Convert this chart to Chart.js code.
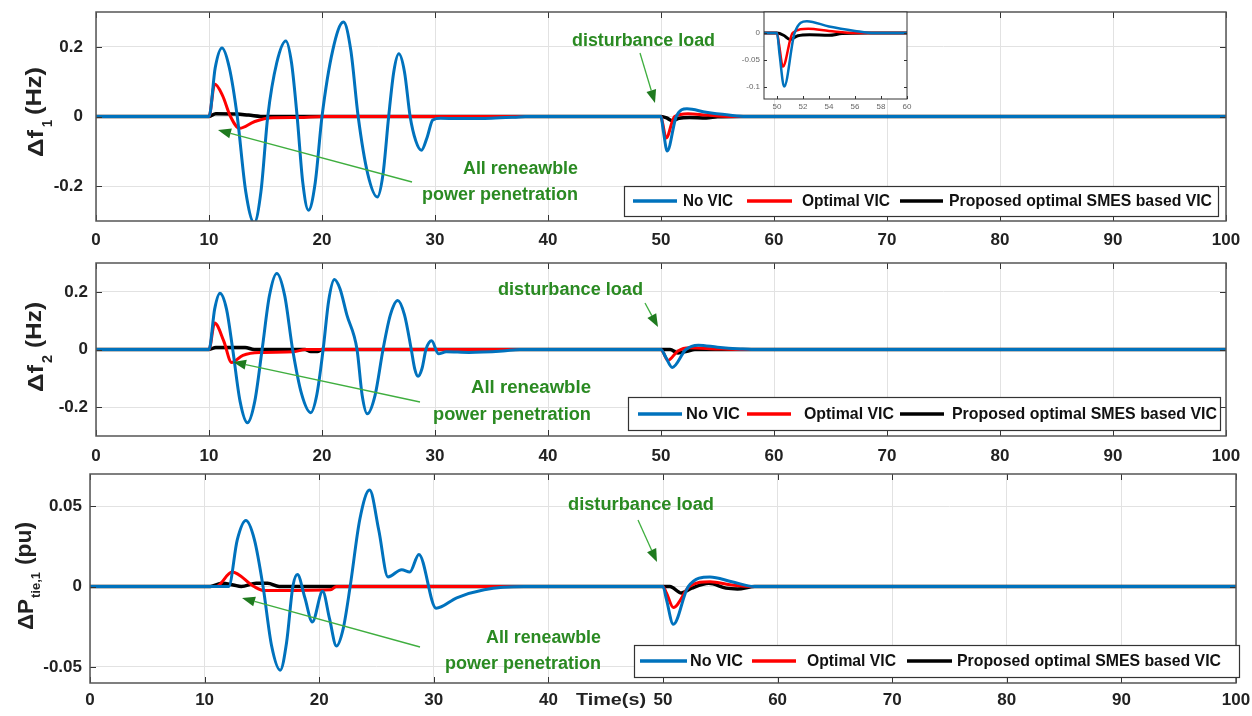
<!DOCTYPE html>
<html><head><meta charset="utf-8">
<script src="https://cdn.jsdelivr.net/npm/chart.js@4/dist/chart.umd.min.js"></script>
<style>
html,body{margin:0;padding:0;background:#fff;}
#wrap{position:relative;width:1252px;height:716px;overflow:hidden;background:#fff;}
canvas{position:absolute;}
</style></head><body>
<div id="wrap">
<canvas id="c1" style="left:0;top:0" width="1252" height="250"></canvas>
<canvas id="c2" style="left:0;top:250px" width="1252" height="215"></canvas>
<canvas id="c3" style="left:0;top:465px" width="1252" height="251"></canvas>
<canvas id="cin" style="left:730px;top:0" width="190" height="115"></canvas>
</div>
<script>
// ---------- DATA ----------
const SERIES_NAMES = ['No VIC', 'Optimal VIC', 'Proposed optimal SMES based VIC'];
const X_TICKS = [0,10,20,30,40,50,60,70,80,90,100];
const X_TICK_LABELS = ['0','10','20','30','40','50','60','70','80','90','100'];
const F_TICKS = [-0.2, 0, 0.2];
const F_TICK_LABELS = ['-0.2','0','0.2'];
const P_TICKS = [-0.05, 0, 0.05];
const P_TICK_LABELS = ['-0.05','0','0.05'];
const INSET_X_TICKS = [50,52,54,56,58,60];
const INSET_X_LABELS = ['50','52','54','56','58','60'];
const INSET_Y_TICKS = [-0.1,-0.05,0];
const INSET_Y_LABELS = ['-0.1','-0.05','0'];

// Panel 1: delta f1 (Hz)
const T_F1_NOVIC = [0,10,10.55,11.15,11.8,12.5,13.25,14.0,14.6,15.2,16.0,16.8,17.3,17.8,18.3,18.8,19.4,20.0,20.95,21.9,22.55,23.2,24.05,24.9,25.4,25.9,26.35,26.8,27.3,27.8,28.3,28.8,29.3,29.8,30.5,32,35,37,38,50,50.2,50.55,51.35,52.3,54,56,57.5,100];
const F1_NOVIC   = [0,0,0.14,0.197,0.14,0,-0.215,-0.305,-0.215,0,0.155,0.217,0.155,0,-0.19,-0.269,-0.19,0,0.19,0.271,0.19,0,-0.165,-0.231,-0.165,0,0.128,0.18,0.128,0,-0.07,-0.097,-0.06,-0.01,-0.005,-0.006,-0.005,-0.002,0,0,-0.04,-0.099,0,0.022,0.012,0.004,0,0];
const T_F1_OPT = [0,10,10.5,11.2,11.9,12.7,14,15.3,18,20,50,50.15,50.45,51.2,52.4,54,56,100];
const F1_OPT   = [0,0,0.093,0.06,0,-0.034,-0.015,-0.004,-0.003,0,0,-0.02,-0.062,0,0.008,0.004,0,0];
const T_F1_SMES = [0,10,10.6,12.5,13.5,15,50,50.5,51,51.6,52.5,54,55,57,100];
const F1_SMES   = [0,0,0.008,0.007,0.004,0,0,-0.004,-0.012,-0.005,-0.003,-0.004,-0.001,0,0];

// Panel 2: delta f2 (Hz)
const T_F2_NOVIC = [0,10,10.5,10.97,11.55,12.1,12.75,13.4,14.05,14.7,15.35,16.0,16.7,17.4,18.2,19.0,19.55,20.1,20.6,21.1,21.6,22.2,23.1,23.55,24.0,24.7,25.4,26.05,26.7,27.3,27.9,28.2,28.5,28.85,29.2,29.7,30.3,31,33,36,37.5,50,50.4,51.0,52.2,53.3,55,57,58,100];
const F2_NOVIC   = [0,0,0.14,0.195,0.14,0,-0.18,-0.254,-0.18,0,0.187,0.264,0.187,0,-0.155,-0.219,-0.155,0,0.172,0.243,0.21,0.12,0,-0.158,-0.223,-0.158,0,0.12,0.17,0.12,0,-0.066,-0.093,-0.066,0,0.03,-0.015,-0.008,-0.01,-0.005,0,0,-0.025,-0.062,0,0.015,0.008,0.002,0,0];
const T_F2_OPT = [0,10,10.5,11.3,12.0,13,14.5,17.5,18.5,50,50.2,50.6,51.5,52.5,55,57,100];
const F2_OPT   = [0,0,0.092,0.03,-0.045,-0.02,-0.01,-0.008,0,0,-0.01,-0.038,-0.005,0.006,0.002,0,0];
const T_F2_SMES = [0,10,10.6,13.2,14,18.5,19,19.6,20,50,50.8,51.5,52.3,53,100];
const F2_SMES   = [0,0,0.007,0.007,0,0,-0.007,-0.007,0,0,0,-0.012,-0.006,0,0];

// Panel 3: delta P tie,1 (pu)
const T_PT_NOVIC = [0,10,12.1,12.85,13.6,14.35,15.1,15.85,16.6,17.15,17.7,18.1,18.75,19.4,20.3,20.9,21.5,22.1,22.7,23.55,24.4,25.2,26.0,27.2,27.9,28.7,30.2,32,34.4,37.9,50,50.3,50.9,52.2,54.1,56,58,100];
const PT_NOVIC   = [0,0,0,0.029,0.041,0.029,0,-0.037,-0.052,-0.035,0,0.0075,-0.007,-0.022,-0.003,-0.02,-0.037,-0.026,0,0.042,0.06,0.035,0.006,0.0105,0.009,0.02,-0.0135,-0.007,-0.002,0,0,-0.008,-0.0235,0,0.006,0.003,0,0];
const T_PT_OPT = [0,11,12.4,14.3,15.2,21,21.5,50,50.3,50.9,52.3,54.1,56,58,100];
const PT_OPT   = [0,0,0.009,0,-0.0025,-0.002,0,0,-0.004,-0.013,0,0.003,0.001,0,0];
const T_PT_SMES = [0,10.5,11.5,12.5,13.2,14.5,15.5,16.5,50,50.6,51.6,52.5,54,55.5,56.5,58,100];
const PT_SMES   = [0,0,0.002,0.001,0,0.002,0.002,0,0,0,-0.004,-0.001,0.002,-0.001,-0.0015,0,0];

// ---------- STYLE ----------
const BLUE = '#0072BD', RED = '#FF0000', BLACK = '#000000';
const GREEN_TXT = '#2a8a22', GREEN_LINE = '#3fae3f', GREEN_HEAD = '#1f7a1f';
const FONT = '"Liberation Sans", Arial, sans-serif';

function pts(t, v){ return t.map((x,i)=>({x:x, y:v[i]})); }

function fitText(ctx, text, x, yc, w, font, color){
  ctx.save(); ctx.font = font; ctx.fillStyle = color; ctx.textBaseline = 'middle'; ctx.textAlign = 'left';
  const m = ctx.measureText(text).width;
  ctx.translate(x, yc); ctx.scale(w/m, 1); ctx.fillText(text, 0, 0); ctx.restore();
}
function rotText(ctx, text, bx, y0, y1, font){
  ctx.save(); ctx.font = font; ctx.fillStyle = '#222'; ctx.textBaseline = 'alphabetic'; ctx.textAlign = 'left';
  const m = ctx.measureText(text).width;
  ctx.translate(bx, y0); ctx.rotate(-Math.PI/2); ctx.scale((y0-y1)/m, 1); ctx.fillText(text, 0, 0); ctx.restore();
}
function arrow(ctx, x0, y0, x1, y1){
  const ang = Math.atan2(y1-y0, x1-x0), L = 13, W = 5;
  const bx = x1 - L*Math.cos(ang), by = y1 - L*Math.sin(ang);
  ctx.save();
  ctx.strokeStyle = GREEN_LINE; ctx.lineWidth = 1.3;
  ctx.beginPath(); ctx.moveTo(x0, y0); ctx.lineTo(bx, by); ctx.stroke();
  ctx.fillStyle = GREEN_HEAD;
  ctx.beginPath(); ctx.moveTo(x1, y1);
  ctx.lineTo(bx + W*Math.sin(ang), by - W*Math.cos(ang));
  ctx.lineTo(bx - W*Math.sin(ang), by + W*Math.cos(ang));
  ctx.closePath(); ctx.fill(); ctx.restore();
}

function makeDecor(c){
  return {
    id: 'decor',
    beforeDraw(chart){
      if (!c.whiteArea) return;
      const a = chart.chartArea, ctx = chart.ctx;
      ctx.save(); ctx.fillStyle = '#fff'; ctx.fillRect(a.left, a.top, a.right-a.left, a.bottom-a.top); ctx.restore();
    },
    afterDraw(chart){
      const ctx = chart.ctx, a = chart.chartArea, dy = c.dy || 0, dx = c.dx || 0;
      ctx.save();
      const xs = chart.scales.x, ys = chart.scales.y, tl = c.tickLen;
      ctx.strokeStyle = '#333'; ctx.lineWidth = 1;
      ctx.beginPath();
      xs.ticks.forEach(t => { const p = Math.round(xs.getPixelForValue(t.value))+0.5;
        ctx.moveTo(p, a.bottom); ctx.lineTo(p, a.bottom - tl);
        if (c.topTicks) { ctx.moveTo(p, a.top); ctx.lineTo(p, a.top + tl); } });
      ys.ticks.forEach(t => { const p = Math.round(ys.getPixelForValue(t.value))+0.5;
        ctx.moveTo(a.left, p); ctx.lineTo(a.left + tl, p);
        ctx.moveTo(a.right, p); ctx.lineTo(a.right - tl, p); });
      ctx.stroke();
      ctx.strokeStyle = c.borderColor; ctx.lineWidth = c.borderWidth;
      ctx.strokeRect(a.left, a.top, a.right-a.left, a.bottom-a.top);
      ctx.restore();
      (c.title || []).forEach(p => rotText(ctx, p.text, p.bx - dx, p.y0 - dy, p.y1 - dy, p.font));
      (c.notes || []).forEach(n => fitText(ctx, n.text, n.x - dx, n.yc - dy, n.w, 'bold 18px ' + FONT, GREEN_TXT));
      (c.arrows || []).forEach(r => arrow(ctx, r[0]-dx, r[1]-dy, r[2]-dx, r[3]-dy));
      if (c.time) fitText(ctx, c.time.text, c.time.x, c.time.yc - dy, c.time.w, 'bold 17px ' + FONT, '#222');
      if (c.legend) {
        const L = c.legend;
        ctx.save();
        ctx.fillStyle = '#fff'; ctx.fillRect(L.box[0], L.box[1]-dy, L.box[2]-L.box[0], L.box[3]-L.box[1]);
        ctx.strokeStyle = '#333'; ctx.lineWidth = 1.2;
        ctx.strokeRect(L.box[0]+0.5, L.box[1]-dy+0.5, L.box[2]-L.box[0], L.box[3]-L.box[1]);
        const cols = [BLUE, RED, BLACK];
        L.items.forEach((it, i) => {
          ctx.strokeStyle = cols[i]; ctx.lineWidth = 3.5;
          ctx.beginPath(); ctx.moveTo(it[0], L.y - dy); ctx.lineTo(it[1], L.y - dy); ctx.stroke();
          fitText(ctx, SERIES_NAMES[i], it[2], L.y - dy, it[3]-it[2], 'bold 17px ' + FONT, '#111');
        });
        ctx.restore();
      }
    }
  };
}

function makeDatasets(tb, b, tr, r, tk, k, widths){
  return [
    {label: SERIES_NAMES[0], data: pts(tb, b), borderColor: BLUE, borderWidth: widths[0]},
    {label: SERIES_NAMES[1], data: pts(tr, r), borderColor: RED, borderWidth: widths[1]},
    {label: SERIES_NAMES[2], data: pts(tk, k), borderColor: BLACK, borderWidth: widths[2]}
  ];
}

function makeChart(id, c){
  return new Chart(document.getElementById(id), {
    type: 'line',
    data: { datasets: c.datasets },
    options: {
      responsive: false, animation: false, devicePixelRatio: 1,
      layout: { padding: { left: 0, right: c.padR, top: c.padT, bottom: 0 } },
      elements: { point: { radius: 0 }, line: { cubicInterpolationMode: 'monotone', fill: false } },
      plugins: { legend: { display: false }, tooltip: { enabled: false } },
      scales: {
        x: {
          type: 'linear', min: c.xmin, max: c.xmax,
          afterBuildTicks: s => { s.ticks = c.xt.map(v => ({ value: v })); },
          afterFit: s => { s.height = c.xh; s.paddingLeft = 0; s.paddingRight = 0; },
          ticks: { autoSkip: false, maxRotation: 0, padding: c.xpad, color: c.tickColor,
                   font: { family: FONT, size: c.tickSize, weight: c.tickWeight },
                   callback: (v, i) => c.xl[i] },
          grid: { display: c.grid, color: '#e2e2e2', lineWidth: 1, drawTicks: false },
          border: { display: false }
        },
        y: {
          type: 'linear', min: c.ymin, max: c.ymax,
          afterBuildTicks: s => { s.ticks = c.yt.map(v => ({ value: v })); },
          afterFit: s => { s.width = c.left; s.paddingTop = 0; s.paddingBottom = 0; },
          ticks: { padding: c.ypad, color: c.tickColor,
                   font: { family: FONT, size: c.tickSize, weight: c.tickWeight },
                   callback: (v, i) => c.yl[i] },
          grid: { display: c.grid, color: '#e2e2e2', lineWidth: 1, drawTicks: false },
          border: { display: false }
        }
      }
    },
    plugins: [makeDecor(c.decor)]
  });
}

const common = { xmin: 0, xmax: 100, xt: X_TICKS, xl: X_TICK_LABELS, grid: true, tickColor: '#222', tickSize: 17, tickWeight: 'bold' };

makeChart('c1', Object.assign({}, common, {
  datasets: makeDatasets(T_F1_NOVIC, F1_NOVIC, T_F1_OPT, F1_OPT, T_F1_SMES, F1_SMES, [3, 3, 3.5]),
  padR: 26, padT: 12, left: 96, xh: 29, xpad: 9, ypad: 13,
  ymin: -0.3, ymax: 0.3, yt: F_TICKS, yl: F_TICK_LABELS,
  decor: {
    dy: 0, tickLen: 6, topTicks: true, borderColor: '#555', borderWidth: 1.5,
    title: [
      { text: 'Δf', bx: 43, y0: 157, y1: 130, font: 'bold 22px ' + FONT },
      { text: '1', bx: 52, y0: 127, y1: 120, font: 'bold 14px ' + FONT },
      { text: '(Hz)', bx: 41, y0: 115, y1: 67, font: 'bold 22px ' + FONT }
    ],
    notes: [
      { text: 'disturbance load', x: 572, yc: 41, w: 143 },
      { text: 'All reneawble', x: 463, yc: 169, w: 115 },
      { text: 'power penetration', x: 422, yc: 195, w: 156 }
    ],
    arrows: [[412, 182, 218, 130], [640, 53, 655, 103]],
    legend: { box: [624, 186, 1218, 216], y: 201,
      items: [[633, 677, 683, 733], [747, 792, 802, 890], [900, 943, 949, 1212]] }
  }
}));

makeChart('c2', Object.assign({}, common, {
  datasets: makeDatasets(T_F2_NOVIC, F2_NOVIC, T_F2_OPT, F2_OPT, T_F2_SMES, F2_SMES, [3, 3, 3.5]),
  padR: 26, padT: 13, left: 96, xh: 29, xpad: 10, ypad: 8,
  ymin: -0.3, ymax: 0.3, yt: F_TICKS, yl: F_TICK_LABELS,
  decor: {
    dy: 250, tickLen: 6, topTicks: true, borderColor: '#555', borderWidth: 1.5,
    title: [
      { text: 'Δf', bx: 43, y0: 392, y1: 365, font: 'bold 22px ' + FONT },
      { text: '2', bx: 52, y0: 363, y1: 355, font: 'bold 14px ' + FONT },
      { text: '(Hz)', bx: 41, y0: 348, y1: 302, font: 'bold 22px ' + FONT }
    ],
    notes: [
      { text: 'disturbance load', x: 498, yc: 290, w: 145 },
      { text: 'All reneawble', x: 471, yc: 388, w: 120 },
      { text: 'power penetration', x: 433, yc: 415, w: 158 }
    ],
    arrows: [[420, 402, 233, 362], [645, 303, 658, 327]],
    legend: { box: [628, 397, 1220, 430], y: 414,
      items: [[638, 682, 686, 740], [747, 791, 804, 894], [900, 944, 952, 1217]] }
  }
}));

makeChart('c3', Object.assign({}, common, {
  datasets: makeDatasets(T_PT_NOVIC, PT_NOVIC, T_PT_OPT, PT_OPT, T_PT_SMES, PT_SMES, [3, 3, 3.5]),
  padR: 16, padT: 9, left: 90, xh: 33, xpad: 7, ypad: 8,
  ymin: -0.06, ymax: 0.07, yt: P_TICKS, yl: P_TICK_LABELS,
  decor: {
    dy: 465, tickLen: 6, topTicks: true, borderColor: '#555', borderWidth: 1.5,
    title: [
      { text: 'ΔP', bx: 33, y0: 630, y1: 599, font: 'bold 22px ' + FONT },
      { text: 'tie,1', bx: 40, y0: 598, y1: 572, font: 'bold 13px ' + FONT },
      { text: '(pu)', bx: 31, y0: 565, y1: 522, font: 'bold 22px ' + FONT }
    ],
    notes: [
      { text: 'disturbance load', x: 568, yc: 505, w: 146 },
      { text: 'All reneawble', x: 486, yc: 638, w: 115 },
      { text: 'power penetration', x: 445, yc: 664, w: 156 }
    ],
    arrows: [[420, 647, 242, 598], [638, 520, 657, 562]],
    time: { text: 'Time(s)', x: 576, yc: 700, w: 70 },
    legend: { box: [634, 645, 1239, 677], y: 661,
      items: [[640, 687, 690, 743], [752, 796, 807, 896], [907, 952, 957, 1221]] }
  }
}));

makeChart('cin', {
  datasets: makeDatasets(T_F1_NOVIC, F1_NOVIC, T_F1_OPT, F1_OPT, T_F1_SMES, F1_SMES, [2.5, 2.5, 3]),
  xmin: 49, xmax: 60, xt: INSET_X_TICKS, xl: INSET_X_LABELS,
  ymin: -0.122, ymax: 0.039, yt: INSET_Y_TICKS, yl: INSET_Y_LABELS,
  grid: false, tickColor: '#666', tickSize: 8, tickWeight: 'normal',
  padR: 13, padT: 12, left: 34, xh: 16, xpad: 3, ypad: 4,
  decor: { dy: 0, whiteArea: true, tickLen: 3, topTicks: false, borderColor: '#333', borderWidth: 1 }
});
</script>
</body></html>
